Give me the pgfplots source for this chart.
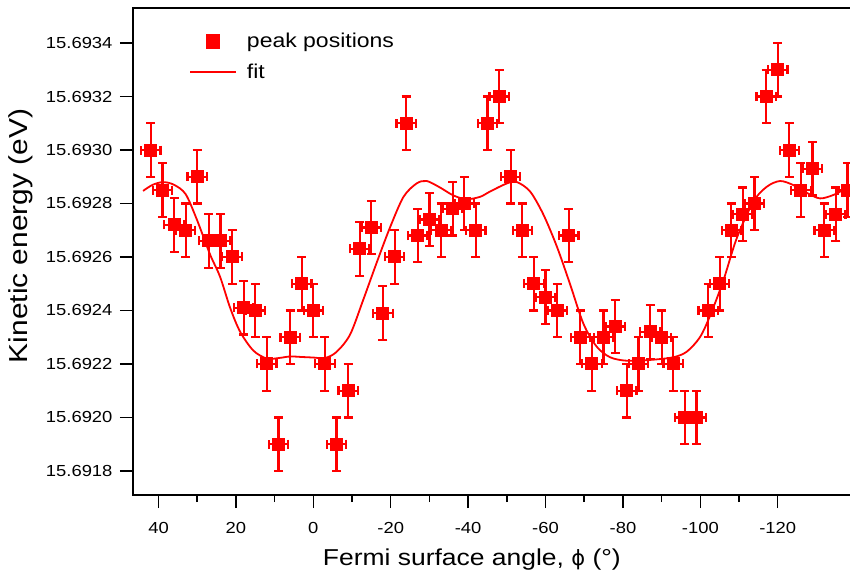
\documentclass[border=0pt]{standalone}
\usepackage{fontspec}
\setmainfont{Liberation Sans}[FakeStretch=1.15]
\newfontfamily\dejavu{DejaVu Sans}
\usepackage{pgfplots}
\usepackage{pgfplotstable}
\pgfplotsset{compat=1.18}
% y values in units of 1e-4 eV above 15.6900 eV
\pgfplotstableread{
x y
42 30.0
39 28.5
36 27.2
33 27.0
30 29.0
27 26.6
24 26.6
21 26.0
18 24.1
15 24.0
12 22.0
9 19.0
6 23.0
3 25.0
0 24.0
-3 22.0
-6 19.0
-9 21.0
-12 26.3
-15 27.1
-18 23.9
-21 26.0
-24 31.0
-27 26.8
-30 27.4
-33 27.0
-36 27.8
-39 28.0
-42 27.0
-45 31.0
-48 32.0
-51 29.0
-54 27.0
-57 25.0
-60 24.5
-63 24.0
-66 26.8
-69 23.0
-72 22.0
-75 23.0
-78 23.4
-81 21.0
-84 22.0
-87 23.2
-90 23.0
-93 22.0
-96 20.0
-99 20.0
-102 24.0
-105 25.0
-108 27.0
-111 27.6
-114 28.0
-117 32.0
-120 33.0
-123 30.0
-126 28.5
-129 29.3
-132 27.0
-135 27.6
-138 28.5
}\peaks
\pgfplotstableread{
x y
44 28.47
41.5 28.70
38.8 28.80
36 28.70
33 28.35
30.1 27.40
26.7 26.10
24.1 25.26
21.5 24.10
18.9 23.20
15.5 22.50
12.0 22.20
9.0 22.22
6.0 22.28
3.0 22.26
0 22.24
-3 22.22
-6 22.45
-9.5 23.10
-12.9 24.40
-16.4 25.80
-19.8 27.10
-23.3 28.25
-26.7 28.75
-29.3 28.84
-32.7 28.60
-36.2 28.30
-39.6 28.16
-43.1 28.25
-45.7 28.45
-50 28.75
-52.6 28.80
-56 28.45
-59.4 27.60
-62.9 26.40
-66.3 25.00
-69.8 23.50
-73.2 22.65
-76.7 22.25
-81 22.12
-87 22.15
-93 22.25
-96.5 22.46
-99.9 23.00
-102.5 23.80
-105.9 25.10
-109.4 26.70
-113.7 28.07
-117.2 28.63
-120.6 28.84
-124 28.69
-127.5 28.40
-130.9 28.19
-134.4 28.32
-137.8 28.57
-141 28.75
}\fitdata
\begin{document}
\begin{tikzpicture}
\useasboundingbox (0,0) rectangle (850pt,577pt);
\clip (0,0) rectangle (850pt,577pt);
\begin{axis}[
  at={(133pt,82pt)}, anchor=south west,
  scale only axis, width=741.5pt, height=487pt,
  x dir=reverse,
  xmin=-145, xmax=46.6, ymin=17.1, ymax=35.31,
  xtick={-120,-100,...,40}, minor x tick num=1,
  ytick={18,20,...,34},
  yticklabels={15.6918,15.6920,15.6922,15.6924,15.6926,15.6928,15.6930,15.6932,15.6934},
  xtick pos=left, ytick pos=left,
  tick align=outside,
  major tick length=13pt, minor tick length=7pt,
  tick style={black, line width=1.5pt},
  axis line style={black, line width=1.5pt},
  /pgf/number format/assume math mode=true,
  ticklabel style={font=\fontsize{16}{19}\selectfont},
  xticklabel shift=11pt, yticklabel shift=4pt,
  xlabel={Fermi surface angle, {\dejavu\fontsize{21}{25}\selectfont ϕ} (°)},
  ylabel={Kinetic energy (eV)},
  xlabel style={font=\fontsize{23}{27}\selectfont, at={(axis description cs:0.457,-0.133)}, anchor=center},
  ylabel style={font=\fontsize{26}{30}\selectfont, at={(axis description cs:-0.152,0.532)}, anchor=center},
  legend style={at={(axis description cs:0.0755,0.9487)}, anchor=north west,
    draw=none, fill=none, inner sep=0pt, row sep=15pt,
    font=\fontsize{20}{24}\selectfont, nodes={inner sep=0pt},
    /tikz/every odd column/.append style={column sep=10pt}},
  legend cell align=left,
  /pgfplots/every error bar/.append style={line width=2.2pt},
]
\addplot[red, line width=2pt, only marks, mark=square*, mark size=5.5pt,
  legend image code/.code={\path[draw=none] (0pt,0pt) -- (46pt,0pt); \fill[red] (17pt,-6.5pt) rectangle (29pt,6.5pt);},
  error bars/error bar style={line width=2.2pt, red, solid},
  error bars/error mark=-,
  error bars/error mark options={rotate=90, red, mark size=4.5pt, line width=2.2pt, solid},
  error bars/x dir=both, error bars/x fixed=2.5,
  error bars/y dir=both, error bars/y fixed=1]
  table {\peaks};
\addlegendentry{peak positions}
\addplot[red, line width=1.8pt, smooth, tension=0.5, no marks,
  legend image code/.code={\draw[red, line width=1.8pt] (0pt,0pt) -- (46pt,0pt);}]
  table {\fitdata};
\addlegendentry{fit}
\end{axis}
\end{tikzpicture}
\end{document}
